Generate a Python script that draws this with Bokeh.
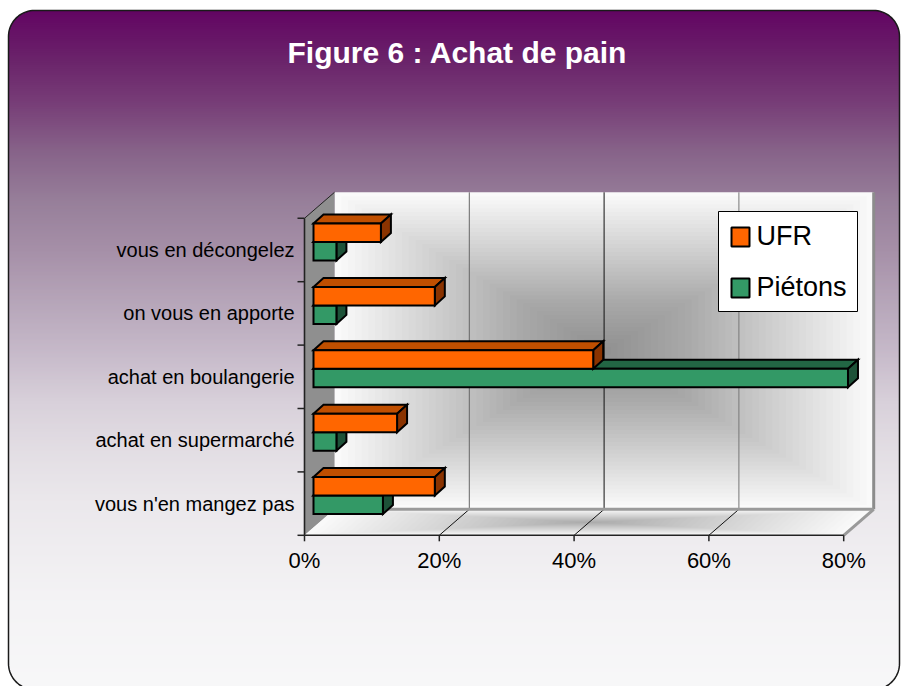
import numpy as np
from bokeh.plotting import figure
from bokeh.models import Range1d, ColumnDataSource
from bokeh.core.properties import value
from bokeh.embed import file_html
from bokeh.resources import INLINE

# ---------------- data ----------------
title_text = "Figure 6 : Achat de pain"
categories = ["vous n'en mangez pas", "achat en supermarché", "achat en boulangerie",
              "on vous en apporte", "vous en décongelez"]
ufr = [18.0, 12.4, 41.5, 18.0, 10.0]
pietons = [10.3, 3.4, 79.3, 3.4, 3.4]
series_names = ["UFR", "Piétons"]
x_ticks = [0, 20, 40, 60, 80]
x_tick_labels = ["0%", "20%", "40%", "60%", "80%"]

# ---------------- styles ----------------
FONT = value("Liberation Sans")
ORANGE = ("#FF6600", "#C04F00", "#8A3300")
GREEN = ("#339966", "#226644", "#1D5238")

W, H = 901, 686
SX = 6.74     # px per percent
SY = 63.4     # px per category
OX, OY = 313.0, 495.1   # page px of origin (bar plane)


def X(px):
    return (px - OX) / SX


def Y(py):
    return (OY - py) / SY


def dX(d):
    return d / SX


def dY(d):
    return -d / SY


FX, FY = dX(-9), dY(8)      # front plane offset
BX, BY = dX(21), dY(-18)    # back plane offset
DX, DY = dX(10), dY(-9)     # bar depth
BH = 18.5 / SY              # bar height
XMAX = x_ticks[-1]
YLO, YHI = -0.5, len(categories) - 0.5

p = figure(width=W, height=H, x_range=Range1d(X(0), X(W)), y_range=Range1d(Y(H), Y(0)),
           output_backend="svg", toolbar_location=None, min_border=0,
           x_axis_type=None, y_axis_type=None, outline_line_color=None,
           background_fill_color="white", border_fill_color="white")
p.xgrid.visible = False
p.ygrid.visible = False

# ---------------- page background gradient ----------------
stops_y = [10, 60, 100, 150, 200, 250, 300, 350, 400, 450, 500, 600, 690]
stops_c = ["#630563", "#6b246b", "#773c77", "#876389", "#977f9a", "#a690a8", "#b6a5b9",
           "#c6b9c9", "#d8d0da", "#e3dee4", "#ebe8ec", "#f4f3f5", "#f8f8f9"]


def hex2rgb(h):
    return [int(h[i:i + 2], 16) for i in (1, 3, 5)]


rgb = np.array([hex2rgb(c) for c in stops_c], dtype=float)
ys = np.arange(10, 690, 2.0)
cols = []
for yy in ys:
    r = np.interp(yy + 1, stops_y, rgb[:, 0])
    g = np.interp(yy + 1, stops_y, rgb[:, 1])
    b = np.interp(yy + 1, stops_y, rgb[:, 2])
    cols.append("#%02x%02x%02x" % (int(r), int(g), int(b)))
p.quad(left=X(8), right=X(899), top=[Y(v) for v in ys], bottom=[Y(v + 2.6) for v in ys],
       fill_color=cols, line_color=None)

# rounded corners
L, T, R_, B_, RAD = 8.0, 10.0, 899.0, 689.0, 26.0
corners = [((L, T), (L + RAD, T + RAD), np.pi, 1.5 * np.pi),
           ((R_, T), (R_ - RAD, T + RAD), 1.5 * np.pi, 2 * np.pi),
           ((R_, B_), (R_ - RAD, B_ - RAD), 0, 0.5 * np.pi),
           ((L, B_), (L + RAD, B_ - RAD), 0.5 * np.pi, np.pi)]
mx, my = [], []
outline_x, outline_y = [], []
for (cp, cc, a0, a1) in corners:
    th = np.linspace(a0, a1, 20)
    axp = cc[0] + RAD * np.cos(th)
    ayp = cc[1] + RAD * np.sin(th)
    ex = cp[0] + (2 if cp[0] > 400 else -2)
    ey = cp[1] + (2 if cp[1] > 300 else -2)
    mx.append([X(ex)] + [X(v) for v in axp])
    my.append([Y(ey)] + [Y(v) for v in ayp])
    outline_x += list(axp)
    outline_y += list(ayp)
p.patches(mx, my, fill_color="white", line_color=None)
outline_x.append(outline_x[0])
outline_y.append(outline_y[0])
p.line([X(v) for v in outline_x], [Y(v) for v in outline_y], line_color="#1a1a1a", line_width=1.5)

# ---------------- title ----------------
p.text(x=[X(457)], y=[Y(51.5)], text=[title_text], text_font=FONT, text_font_size="30px",
       text_font_style="bold", text_color="white", text_align="center", text_baseline="middle")

# ---------------- walls ----------------
# back wall
p.quad(left=BX, right=XMAX + BX, bottom=YLO + BY, top=YHI + BY, fill_color="#fdfdfd", line_color=None)
cxw, cyw = XMAX / 2 + BX, (YLO + YHI) / 2 + BY
hw, hh = XMAX / 2, (YHI - YLO) / 2
N = 40
for k in range(N):
    f = 1 - k / N
    p.quad(left=cxw - hw * f, right=cxw + hw * f, bottom=cyw - hh * f, top=cyw + hh * f,
           fill_color="black", fill_alpha=0.0105, line_color=None)

# left wall
p.patch([FX, BX, BX, FX], [YLO + FY, YLO + BY, YHI + BY, YHI + FY], fill_color="#8f8f8f", line_color=None)

# floor
fx = np.array([FX, XMAX + FX, XMAX + BX, BX])
fy = np.array([YLO + FY, YLO + FY, YLO + BY, YLO + BY])
p.patch(list(fx), list(fy), fill_color="#fbfbfb", line_color=None)
cfx, cfy = fx.mean(), fy.mean()
for k in range(N):
    f = 1 - k / N
    p.patch(list(cfx + (fx - cfx) * f), list(cfy + (fy - cfy) * f), fill_color="black",
            fill_alpha=0.0095, line_color=None)

# gridlines on back wall
grid_cols = ["#666666", "#111111", "#777777"]
for v, c in zip(x_ticks[1:-1], grid_cols):
    p.line([v + BX, v + BX], [YLO + BY, YHI + BY], line_color=c, line_width=1)
# floor lines
for v in x_ticks[1:-1]:
    p.line([v + FX, v + BX], [YLO + FY, YLO + BY], line_color="#111111", line_width=1)
# wall edges
p.line([XMAX + BX, XMAX + BX], [YLO + BY, YHI + BY], line_color="#8c8c8c", line_width=3)
p.line([BX, XMAX + BX], [YLO + BY, YLO + BY], line_color="#9a9a9a", line_width=3)
p.line([XMAX + FX, XMAX + BX], [YLO + FY, YLO + BY], line_color="#9a9a9a", line_width=3)
p.line([FX, BX], [YHI + FY, YHI + BY], line_color="#222222", line_width=1)

# axes
p.line([FX, XMAX + FX], [YLO + FY, YLO + FY], line_color="#222222", line_width=1.6)
p.line([FX, FX], [YLO + FY, YHI + FY], line_color="#222222", line_width=1.6)
p.segment(x0=[v + FX for v in x_ticks], y0=YLO + FY, x1=[v + FX for v in x_ticks],
          y1=YLO + FY + dY(6), line_color="#222222", line_width=1.5)
bnds = [YLO + k + FY for k in range(len(categories) + 1)]
p.segment(x0=FX + dX(-7), y0=bnds, x1=FX, y1=bnds, line_color="#222222", line_width=1.5)

p.text(x=[v + FX for v in x_ticks], y=YLO + FY + dY(25), text=x_tick_labels, text_font=FONT,
       text_font_size="22px", text_color="black", text_align="center", text_baseline="middle")
p.text(x=FX + dX(-10), y=[i + FY for i in range(len(categories))], text=categories, text_font=FONT,
       text_font_size="20px", text_color="black", text_align="right", text_baseline="middle")


# ---------------- 3D bars ----------------
def draw_bars(vals, y0s, colors):
    src = ColumnDataSource(dict(left=[0.0] * len(vals), right=vals, bottom=y0s,
                                top=[y + BH for y in y0s]))
    tx, ty, sx, sy = [], [], [], []
    for v, yb in zip(vals, y0s):
        yt = yb + BH
        tx.append([0, v, v + DX, DX])
        ty.append([yt, yt, yt + DY, yt + DY])
        sx.append([v, v, v + DX, v + DX])
        sy.append([yb, yt, yt + DY, yb + DY])
    p.patches(tx, ty, fill_color=colors[1], line_color="black", line_width=2, line_join="miter")
    p.patches(sx, sy, fill_color=colors[2], line_color="black", line_width=2, line_join="miter")
    p.quad(left="left", right="right", bottom="bottom", top="top", source=src,
           fill_color=colors[0], line_color="black", line_width=2, line_join="miter")


idx = list(range(len(categories)))
draw_bars(pietons, [i - BH for i in idx], GREEN)
draw_bars(ufr, [float(i) for i in idx], ORANGE)

# ---------------- legend ----------------
p.quad(left=X(718), right=X(857), top=Y(211), bottom=Y(311), fill_color="white",
       line_color="black", line_width=1)
p.quad(left=X(731), right=X(749), top=[Y(227), Y(278)], bottom=[Y(246), Y(297)],
       fill_color=[ORANGE[0], GREEN[0]], line_color="black", line_width=2)
p.text(x=X(756), y=[Y(235.5), Y(286.5)], text=series_names, text_font=FONT, text_font_size="27px",
       text_color="black", text_align="left", text_baseline="middle")

open("out.html", "w").write(file_html(p, INLINE))
